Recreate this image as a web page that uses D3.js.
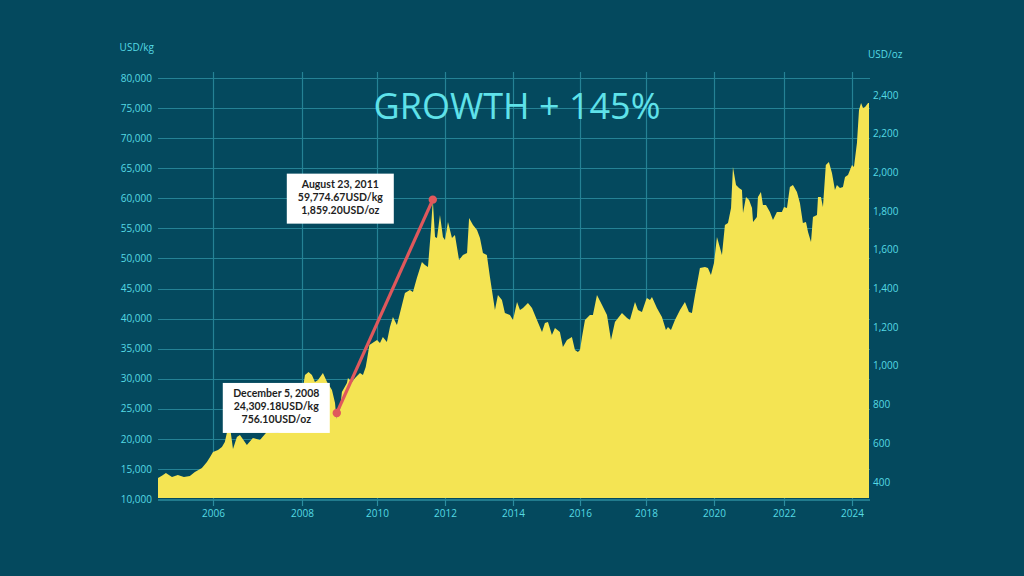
<!DOCTYPE html>
<html>
<head>
<meta charset="utf-8">
<script src="https://cdn.jsdelivr.net/npm/d3@7"></script>
<style>
  html, body { margin: 0; padding: 0; background: #04495e; }
  svg { display: block; }
</style>
</head>
<body>
<svg id="chart" width="1024" height="576"></svg>
<script>
// ---------- DATA ----------
const dates = [
"2004-10-06","2004-11-10","2004-12-10","2005-01-29","2005-03-18","2005-05-07","2005-06-25","2005-08-05","2005-10-02","2005-11-12","2005-12-08",
"2006-01-01","2006-02-11","2006-03-15","2006-04-08","2006-04-25","2006-05-12","2006-06-14","2006-07-16","2006-08-10","2006-10-06","2006-11-24",
"2007-01-21","2007-03-18","2007-06-15","2007-08-15","2007-10-15","2007-11-08","2007-12-10",
"2008-01-15","2008-01-30","2008-03-05","2008-04-07","2008-05-06","2008-06-05","2008-07-23","2008-09-01","2008-10-19","2008-11-18","2008-12-01","2008-12-05",
"2009-01-05","2009-01-24","2009-03-14","2009-03-24","2009-05-02","2009-06-01","2009-07-19","2009-08-17","2009-09-13","2009-09-25","2009-10-19",
"2010-01-01","2010-02-02","2010-03-05","2010-04-17","2010-05-20","2010-06-21","2010-08-03","2010-09-26","2010-10-28","2010-12-20",
"2011-01-22","2011-03-05","2011-04-28","2011-05-31","2011-07-02","2011-08-03","2011-08-23","2011-09-16","2011-10-07","2011-11-08","2011-12-10",
"2012-01-01","2012-02-02","2012-03-16","2012-04-17","2012-05-31","2012-07-12","2012-08-25","2012-09-16","2012-10-28","2012-12-10",
"2013-01-11","2013-02-12","2013-03-26","2013-04-28","2013-06-21","2013-07-23","2013-09-04","2013-10-06","2013-11-29",
"2014-01-01","2014-02-14","2014-03-18","2014-04-20","2014-06-13","2014-07-27","2014-09-19","2014-11-13","2014-12-15",
"2015-01-17","2015-03-01","2015-04-03","2015-05-27","2015-06-29","2015-08-12","2015-10-05","2015-11-07","2015-12-09",
"2016-01-01","2016-01-23","2016-02-25","2016-04-20","2016-05-23","2016-07-07","2016-09-01","2016-10-26","2016-12-09",
"2017-01-22","2017-04-10","2017-06-05","2017-07-07","2017-09-01","2017-10-04","2017-11-17",
"2018-01-01","2018-01-11","2018-02-13","2018-03-06","2018-04-28","2018-06-21","2018-08-03","2018-08-25","2018-09-26","2018-11-08",
"2019-01-01","2019-02-23","2019-04-07","2019-05-09","2019-06-11","2019-08-03","2019-09-26","2019-10-28","2019-11-29",
"2020-01-01","2020-02-01","2020-03-24","2020-04-24","2020-05-26","2020-06-27","2020-07-17","2020-08-18","2020-09-18","2020-10-19","2020-10-30","2020-11-30",
"2021-01-01","2021-02-01","2021-02-12","2021-03-24","2021-04-04","2021-05-05","2021-05-26","2021-06-27","2021-08-07","2021-09-08","2021-10-19","2021-12-10",
"2022-01-01","2022-02-02","2022-03-05","2022-04-07","2022-05-20","2022-06-21","2022-07-23","2022-08-25","2022-09-16","2022-10-18","2022-11-08","2022-12-21",
"2023-01-01","2023-02-02","2023-02-23","2023-03-26","2023-04-28","2023-05-31","2023-07-02","2023-07-23","2023-08-25","2023-09-26","2023-10-18","2023-11-19",
"2024-01-01","2024-01-22","2024-02-23","2024-03-16","2024-04-07","2024-04-28","2024-05-20","2024-06-21","2024-07-01"
];
const priceKg = [
13490,13900,14320,13660,13990,13660,13830,14490,15160,16150,16980,
17820,18150,18650,19480,21000,23300,18300,20310,20640,18980,20150,
19810,21140,21000,21300,24500,26900,25700,
29000,30620,31120,30620,29460,29790,30950,29460,28130,25960,23300,24309,
24800,27790,29290,30120,29460,30120,30950,30620,31950,33110,35610,
36440,35940,36940,36110,38600,40270,38940,42260,44260,44750,
44420,46750,49410,48910,48580,54730,59775,53570,53400,57230,53570,
53070,56060,53400,53900,49740,50570,50910,56730,55560,54730,
53400,50910,50570,46920,41430,43920,43090,40930,40600,
39770,42760,41430,41760,42590,41760,39770,37770,39270,
39430,37270,38440,37770,35280,36440,36940,34780,34450,
34780,36940,39770,40600,40600,43920,42260,40600,36440,
39430,40930,40100,39770,42760,41430,41100,
43090,43420,43090,43590,41760,40270,38100,38600,38100,39770,
41430,42760,41100,40930,43920,48410,48580,48410,47250,
49240,53570,50570,55560,55890,58390,65210,62220,61720,61390,57560,60220,
59720,58390,56060,56890,60220,61050,58890,58890,57730,56390,57730,57730,
58560,58390,61880,62220,61050,59220,55890,56060,54400,52740,56890,57230,
60220,60220,58560,65540,66040,64210,61390,62220,61720,61880,63540,63880,
65540,65210,69200,74690,75850,75020,75190,75850,75850
];

const yearTicks = [2006, 2008, 2010, 2012, 2014, 2016, 2018, 2020, 2022, 2024];
const kgTicks = [10000,15000,20000,25000,30000,35000,40000,45000,50000,55000,60000,65000,70000,75000,80000];
const ozTicks = [400,600,800,1000,1200,1400,1600,1800,2000,2200,2400];
const KG_PER_OZ = 32.1507;

const annoDates = ["2008-12-05", "2011-08-23"];
const annoKg = [24309.18, 59774.67];
const annoOz = [756.10, 1859.20];
const annoTitles = ["December 5, 2008", "August 23, 2011"];

const title = "GROWTH + 145%";
const leftUnit = "USD/kg";
const rightUnit = "USD/oz";

// ---------- CHART ----------
(function () {
const parse = d3.timeParse("%Y-%m-%d");
const data = dates.map((d, i) => ({ date: parse(d), v: priceKg[i] }));

const svg = d3.select("#chart");
const W = 1024, H = 576;
const mL = 158, mR = 869, mT = 78, mB = 499;

const colBg = "#04495e", colGrid = "#2b8d9f", colText = "#56dae4", colFill = "#f4e453", colRed = "#e0585c";
const tickFont = "Open Sans, sans-serif", tickSize = 10;

svg.append("rect").attr("width", W).attr("height", H).attr("fill", colBg);

// piecewise time scale to follow the original's uneven year spacing
const xDomain = [data[0].date].concat(yearTicks.map(yv => new Date(yv, 0, 1))).concat([data[data.length - 1].date]);
const xRange = [mL, 213, 302, 377, 445, 513, 580, 646, 714, 784, 852, mR];
const x = d3.scaleTime().domain(xDomain).range(xRange);

const y = d3.scaleLinear().domain([10000, 80000]).range([mB, mT]);
const yOz = d3.scaleLinear().domain([10000 / KG_PER_OZ, 80000 / KG_PER_OZ]).range([mB, mT]);

// grid
const grid = svg.append("g").attr("stroke", colGrid).attr("stroke-width", 1.2).attr("opacity", 0.85);
grid.selectAll("line.h").data(kgTicks.filter(t => t > 10000)).join("line")
  .attr("x1", mL).attr("x2", mR + 1)
  .attr("y1", d => Math.round(y(d)) + 0.5).attr("y2", d => Math.round(y(d)) + 0.5);
grid.selectAll("line.v").data(yearTicks).join("line")
  .attr("x1", d => Math.round(x(new Date(d, 0, 1))) + 0.5).attr("x2", d => Math.round(x(new Date(d, 0, 1))) + 0.5)
  .attr("y1", mT - 6).attr("y2", mB);

// area
const area = d3.area().x(d => x(d.date)).y0(y(10000) - 1).y1(d => y(d.v));
svg.append("path").datum(data).attr("d", area).attr("fill", colFill);

// bottom axis
const xAxis = d3.axisBottom(x).tickValues(yearTicks.map(yv => new Date(yv, 0, 1)))
  .tickFormat(d3.timeFormat("%Y")).tickSize(6).tickPadding(4);
const gx = svg.append("g").attr("transform", `translate(0,${mB + 1})`).call(xAxis);
gx.select(".domain").attr("stroke", colGrid).attr("stroke-width", 1.5).attr("d", `M${mL},0H${mR + 1}`);
gx.selectAll(".tick line").attr("stroke", colGrid).attr("stroke-width", 1.2);
gx.selectAll("text").attr("fill", colText).attr("font-family", tickFont).attr("font-size", tickSize);

// left axis
const yAxis = d3.axisLeft(y).tickValues(kgTicks).tickFormat(d3.format(",")).tickSize(0).tickPadding(6);
const gy = svg.append("g").attr("transform", `translate(${mL},0)`).call(yAxis);
gy.select(".domain").remove();
gy.selectAll("text").attr("fill", colText).attr("font-family", tickFont).attr("font-size", tickSize);

// right axis
const yAxisR = d3.axisRight(yOz).tickValues(ozTicks).tickFormat(d3.format(",")).tickSize(0).tickPadding(4);
const gr = svg.append("g").attr("transform", `translate(${mR},0)`).call(yAxisR);
gr.select(".domain").remove();
gr.selectAll("text").attr("fill", colText).attr("font-family", tickFont).attr("font-size", tickSize);

// units
svg.append("text").attr("x", mL - 4).attr("y", 51).attr("text-anchor", "end")
  .attr("fill", colText).attr("font-family", tickFont).attr("font-size", tickSize).text(leftUnit);
svg.append("text").attr("x", mR - 1).attr("y", 58).attr("text-anchor", "start")
  .attr("fill", colText).attr("font-family", tickFont).attr("font-size", tickSize).text(rightUnit);

// title
svg.append("text").attr("x", 517).attr("y", 119).attr("text-anchor", "middle")
  .attr("fill", "#5fe2ea").attr("font-family", "Open Sans, sans-serif").attr("font-size", 36)
  .attr("font-weight", 400).text(title);

// annotation line + dots
const pts = annoDates.map((d, i) => ({ x: x(parse(d)), y: y(annoKg[i]), i }));
svg.append("line").attr("x1", pts[0].x).attr("y1", pts[0].y).attr("x2", pts[1].x).attr("y2", pts[1].y)
  .attr("stroke", colRed).attr("stroke-width", 3.2);
svg.selectAll("circle.anno").data(pts).join("circle")
  .attr("cx", d => d.x).attr("cy", d => d.y).attr("r", 4.2).attr("fill", colRed);

// annotation boxes
const fmtKg = d3.format(",.2f");
const boxW = 107, boxH = 50;
const boxOffsets = [{ dx: -7 - boxW, dy: -30 }, { dx: -39 - boxW, dy: -26 }];
pts.forEach((p, i) => {
  const bx = p.x + boxOffsets[i].dx, by = p.y + boxOffsets[i].dy;
  const g = svg.append("g").attr("transform", `translate(${bx},${by})`);
  g.append("rect").attr("width", boxW).attr("height", boxH).attr("fill", "#ffffff");
  const lines = [annoTitles[i], fmtKg(annoKg[i]) + "USD/kg", fmtKg(annoOz[i]) + "USD/oz"];
  g.selectAll("text").data(lines).join("text")
    .attr("x", boxW / 2).attr("y", (d, j) => 14 + j * 13)
    .attr("text-anchor", "middle").attr("fill", "#1e1e1e")
    .attr("font-family", "Lato, sans-serif").attr("font-weight", 700).attr("font-size", 10.5)
    .text(d => d);
});
})();
</script>
</body>
</html>
